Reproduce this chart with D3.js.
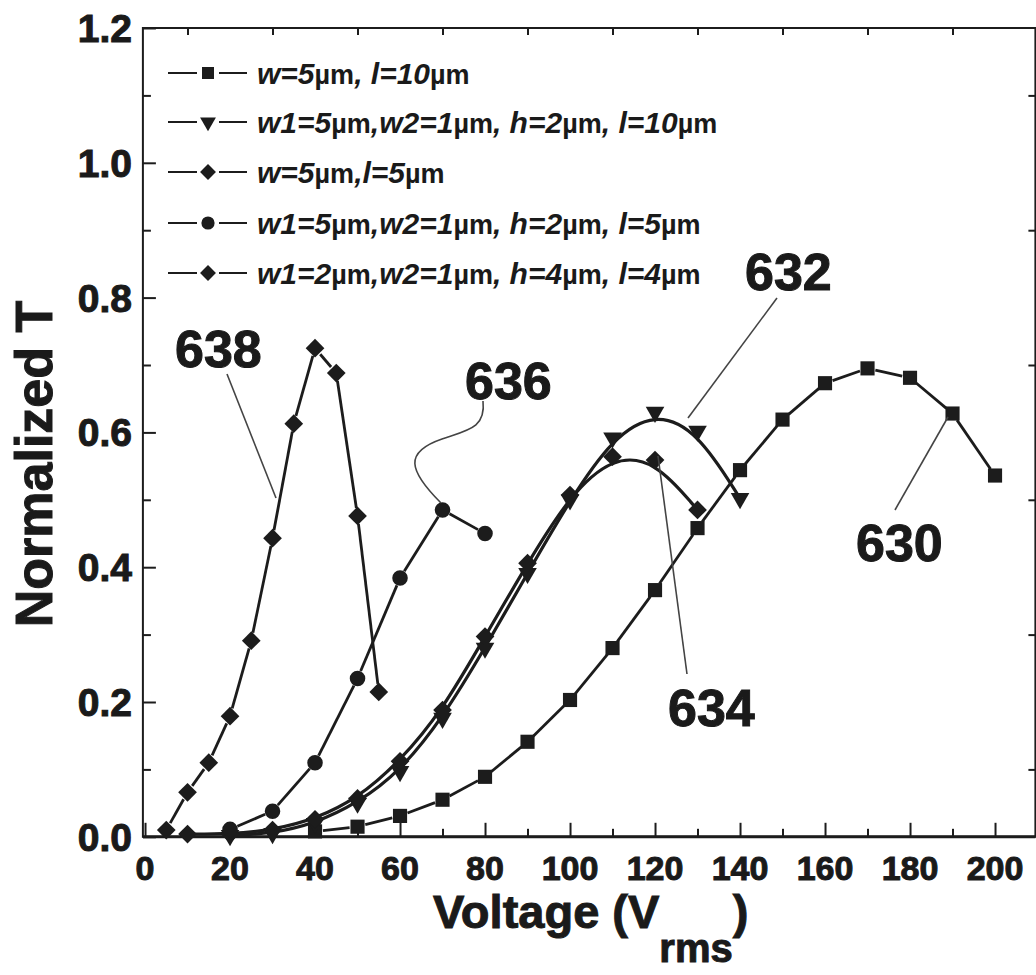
<!DOCTYPE html>
<html><head><meta charset="utf-8">
<script src="https://cdn.jsdelivr.net/npm/d3@7"></script>
<style>
body{margin:0;background:#fff}
svg{display:block}
text{font-family:"Liberation Sans",Arial,sans-serif;font-weight:bold;fill:#1a1a1a}
text.heavy{stroke:#1a1a1a;stroke-width:1;paint-order:stroke}
</style>
</head><body>
<svg id="c" width="1036" height="975"></svg>
<script>
// ---- data ----
const v630 = [40,50,60,70,80,90,100,110,120,130,140,150,160,170,180,190,200];
const t630 = [0.008,0.015,0.031,0.055,0.089,0.141,0.203,0.280,0.366,0.458,0.544,0.619,0.673,0.695,0.681,0.628,0.536];
const v632 = [20,30,40,50,60,70,80,90,100,110,120,130,140];
const t632 = [0.002,0.005,0.020,0.050,0.097,0.176,0.280,0.391,0.500,0.592,0.630,0.602,0.502];
const v634 = [10,20,30,40,50,60,70,80,90,100,110,120,130];
const t634 = [0.004,0.004,0.010,0.026,0.057,0.112,0.188,0.297,0.406,0.507,0.564,0.559,0.485];
const v636 = [20,30,40,50,60,70,80];
const t636 = [0.011,0.038,0.110,0.235,0.384,0.485,0.450];
const v638 = [5,10,15,20,25,30,35,40,45,50,55];
const t638 = [0.010,0.066,0.110,0.179,0.291,0.443,0.613,0.725,0.688,0.476,0.215];

const xMajor = [0,20,40,60,80,100,120,140,160,180,200];
const xMinor = [10,30,50,70,90,110,130,150,170,190];
const yMajor = [0,0.2,0.4,0.6,0.8,1.0,1.2];
const yMinor = [0.1,0.3,0.5,0.7,0.9,1.1];
const yLabels = ["0.0","0.2","0.4","0.6","0.8","1.0","1.2"];

const legendLabels = [
  "w=5µm, l=10µm",
  "w1=5µm,w2=1µm, h=2µm, l=10µm",
  "w=5µm,l=5µm",
  "w1=5µm,w2=1µm, h=2µm, l=5µm",
  "w1=2µm,w2=1µm, h=4µm, l=4µm"
];
const annoLabels = ["638","636","632","634","630"];

// ---- chart ----
const svg = d3.select("#c");
const INK = "#1c1c1c";
const x = d3.scaleLinear().domain([-0.5, 209.5]).range([142.9, 1035.4]);
const y = d3.scaleLinear().domain([0, 1.2]).range([836.8, 28]);

const series = [
  {v:v630, t:t630, sym:"square", curve:false},
  {v:v632, t:t632, sym:"tri", curve:true},
  {v:v634, t:t634, sym:"diamond", curve:true},
  {v:v636, t:t636, sym:"circle", curve:false},
  {v:v638, t:t638, sym:"diamond", curve:false}
];

function symPath(s){
  if(s==="square") return d3.symbol(d3.symbolSquare, 200)();
  if(s==="diamond") return d3.symbol(d3.symbolSquare, 175)();
  if(s==="tri") return d3.symbol(d3.symbolTriangle, 150)();
  return d3.symbol(d3.symbolCircle, 190)();
}
function symRot(s){ return s==="diamond" ? 45 : (s==="tri" ? 180 : 0); }

// axes frame
const frame = svg.append("g");
frame.append("rect").attr("x", x.range()[0]).attr("y", y.range()[1])
  .attr("width", x.range()[1]-x.range()[0]).attr("height", y.range()[0]-y.range()[1])
  .attr("fill","none").attr("stroke",INK).attr("stroke-width",2);
frame.append("line").attr("x1",x.range()[0]).attr("x2",x.range()[1])
  .attr("y1",y(0)).attr("y2",y(0)).attr("stroke",INK).attr("stroke-width",3);

// bottom ticks (inward)
const gx = svg.append("g").attr("transform",`translate(0,${y(0)})`);
gx.call(d3.axisBottom(x).tickValues(xMajor).tickSize(-14).tickFormat(""));
gx.selectAll(".domain").remove();
gx.selectAll("line").attr("stroke",INK).attr("stroke-width",2);
const gxm = svg.append("g").attr("transform",`translate(0,${y(0)})`);
gxm.call(d3.axisBottom(x).tickValues(xMinor).tickSize(-8).tickFormat(""));
gxm.selectAll(".domain").remove();
gxm.selectAll("line").attr("stroke",INK).attr("stroke-width",2);
// x labels
svg.append("g").selectAll("text").data(xMajor).join("text").attr("class","heavy")
  .attr("x", d=>x(d)).attr("y", 880).attr("text-anchor","middle")
  .attr("font-size", 34).text(d=>d);

// left ticks
const gy = svg.append("g").attr("transform",`translate(${x.range()[0]},0)`);
gy.call(d3.axisLeft(y).tickValues(yMajor).tickSize(-13).tickFormat(""));
gy.selectAll(".domain").remove();
gy.selectAll("line").attr("stroke",INK).attr("stroke-width",2);
const gym = svg.append("g").attr("transform",`translate(${x.range()[0]},0)`);
gym.call(d3.axisLeft(y).tickValues(yMinor).tickSize(-8).tickFormat(""));
gym.selectAll(".domain").remove();
gym.selectAll("line").attr("stroke",INK).attr("stroke-width",2);
svg.append("g").selectAll("text").data(yMajor).join("text").attr("class","heavy")
  .attr("x", 132).attr("y", d=>y(d)+14).attr("text-anchor","end")
  .attr("font-size", 39).text((d,i)=>yLabels[i]);

// top & right minor ticks
const gt = svg.append("g").attr("transform",`translate(0,${y.range()[1]})`);
gt.call(d3.axisTop(x).tickValues(xMinor).tickSize(-7).tickFormat(""));
gt.selectAll(".domain").remove();
gt.selectAll("line").attr("stroke",INK).attr("stroke-width",2);
const gr = svg.append("g").attr("transform",`translate(${x.range()[1]},0)`);
gr.call(d3.axisRight(y).tickValues(yMinor).tickSize(-7).tickFormat(""));
gr.selectAll(".domain").remove();
gr.selectAll("line").attr("stroke",INK).attr("stroke-width",2);

// axis titles
svg.append("text").attr("class","heavy").attr("transform","translate(52,464) rotate(-90)")
  .attr("text-anchor","middle").attr("font-size",52).text("Normalized T");
const xt = svg.append("text").attr("class","heavy").attr("x",433).attr("y",928).attr("font-size",47);
xt.append("tspan").text("Voltage (V");
xt.append("tspan").attr("font-size",40).attr("dy",34).text("rms");
xt.append("tspan").attr("dy",-34).text(")");

// data lines
const plot = svg.append("g");
series.forEach(s=>{
  const pts = s.v.map((v,i)=>[x(v), y(s.t[i])]);
  if(s.curve){
    plot.append("path").attr("d", d3.line().curve(d3.curveBasis)(pts))
      .attr("fill","none").attr("stroke",INK).attr("stroke-width",3.2);
  } else {
    const gap = 8;
    for(let i=0;i<pts.length-1;i++){
      const [x1,y1]=pts[i],[x2,y2]=pts[i+1];
      const L = Math.hypot(x2-x1,y2-y1);
      if(L<=2*gap+2) continue;
      const ux=(x2-x1)/L, uy=(y2-y1)/L;
      plot.append("line").attr("x1",x1+ux*gap).attr("y1",y1+uy*gap)
        .attr("x2",x2-ux*gap).attr("y2",y2-uy*gap)
        .attr("stroke",INK).attr("stroke-width",2.8);
    }
  }
});
// markers
series.forEach(s=>{
  plot.append("g").selectAll("path").data(s.v).join("path")
    .attr("d", symPath(s.sym))
    .attr("transform",(v,i)=>`translate(${x(v)},${y(s.t[i])}) rotate(${symRot(s.sym)})`)
    .attr("fill",INK);
});

// legend
const legY = [73,122,172,223,273];
const leg = svg.append("g");
series.forEach((s,i)=>{
  const g = leg.append("g").attr("transform",`translate(0,${legY[i]})`);
  g.append("line").attr("x1",168).attr("x2",197).attr("stroke",INK).attr("stroke-width",2);
  g.append("line").attr("x1",219).attr("x2",247).attr("stroke",INK).attr("stroke-width",2);
  g.append("path").attr("d",symPath(s.sym))
    .attr("transform",`translate(208,0) rotate(${symRot(s.sym)}) scale(0.85)`).attr("fill",INK);
  const tx = g.append("text").attr("x",257).attr("y",11).attr("font-size",30).attr("font-style","italic");
  legendLabels[i].split(/(µm)/).filter(p=>p.length).forEach(p=>{
    const sp = tx.append("tspan").text(p);
    if(p==="µm") sp.attr("font-style","normal").attr("font-size",27);
  });
});

// annotations
const annoPos = [[175,367],[465,399],[745,290],[668,726],[856,561]];
svg.append("g").selectAll("text").data(annoLabels).join("text").attr("class","heavy")
  .attr("x",(d,i)=>annoPos[i][0]).attr("y",(d,i)=>annoPos[i][1])
  .attr("font-size",52).text(d=>d);
const lead = svg.append("g").attr("fill","none").attr("stroke","#444").attr("stroke-width",1.6);
lead.append("line").attr("x1",227).attr("y1",374).attr("x2",276).attr("y2",498);
lead.append("path").attr("d","M483,401 C486,428 468,430 442,439 C404,452 408,470 441,503");
lead.append("line").attr("x1",777).attr("y1",298).attr("x2",688).attr("y2",418);
lead.append("line").attr("x1",687).attr("y1",674).attr("x2",658).attr("y2",456);
lead.append("line").attr("x1",895).attr("y1",510).attr("x2",948).attr("y2",417);
</script>
</body></html>
